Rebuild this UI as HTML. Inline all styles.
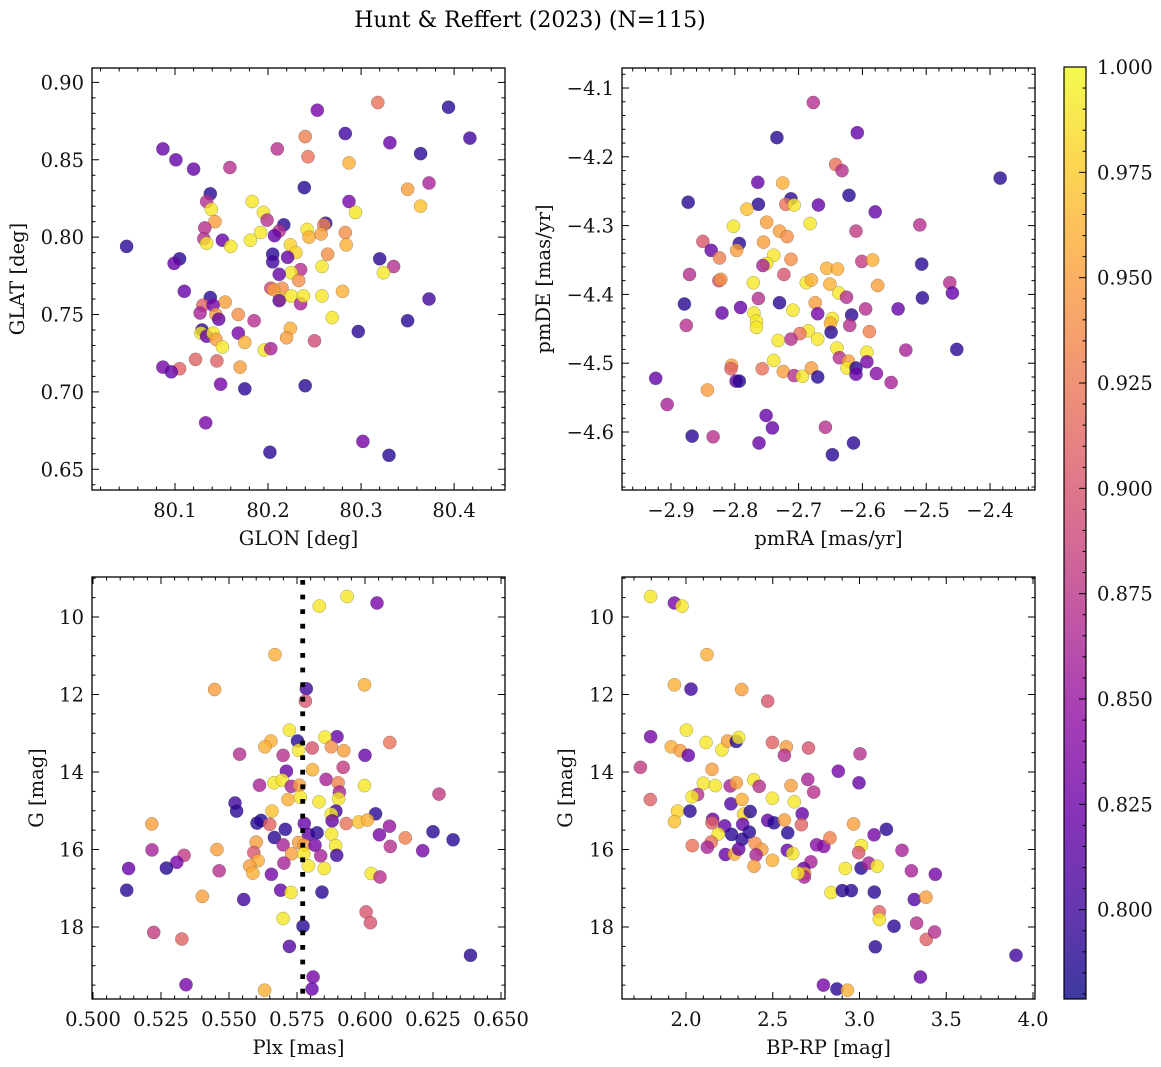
<!DOCTYPE html>
<html><head><meta charset="utf-8">
<style>
html,body{margin:0;padding:0;background:#fff;}
svg{display:block;font-family:"DejaVu Serif","Liberation Serif",serif;}
</style></head>
<body>
<svg id="fig" width="1161" height="1067" viewBox="0 0 1161 1067" xmlns="http://www.w3.org/2000/svg">
<defs>
<linearGradient id="plasma" x1="0" y1="1" x2="0" y2="0">
<stop offset="0" stop-color="#0d0887"/><stop offset="0.1" stop-color="#41049d"/><stop offset="0.2" stop-color="#6a00a8"/><stop offset="0.3" stop-color="#8f0da4"/><stop offset="0.4" stop-color="#b12a90"/><stop offset="0.5" stop-color="#cc4778"/><stop offset="0.6" stop-color="#e16462"/><stop offset="0.7" stop-color="#f2844b"/><stop offset="0.8" stop-color="#fca636"/><stop offset="0.9" stop-color="#fcce25"/><stop offset="1" stop-color="#f0f921"/>
</linearGradient>
</defs>
<text x="530" y="27" font-size="22" text-anchor="middle">Hunt &amp; Reffert (2023) (N=115)</text>
</svg>
<script>
// ---------- Data ----------
const glon = [80.048,80.087,80.101,80.120,80.159,80.138,80.134,80.139,80.143,80.132,80.131,80.134,80.151,80.160,80.105,80.099,80.110,80.183,80.195,80.199,80.217,80.212,80.207,80.192,80.181,80.210,80.239,80.240,80.243,80.253,80.283,80.318,80.331,80.364,80.394,80.417,80.287,80.373,80.350,80.364,80.287,80.294,80.262,80.260,80.242,80.244,80.257,80.283,80.284,80.224,80.230,80.205,80.205,80.221,80.264,80.258,80.235,80.225,80.212,80.233,80.203,80.215,80.206,80.213,80.212,80.225,80.235,80.238,80.258,80.280,80.269,80.320,80.335,80.324,80.373,80.350,80.297,80.250,80.224,80.220,80.196,80.203,80.185,80.168,80.154,80.138,80.130,80.141,80.127,80.144,80.147,80.129,80.128,80.134,80.141,80.144,80.151,80.168,80.175,80.170,80.145,80.122,80.105,80.087,80.096,80.149,80.175,80.240,80.133,80.202,80.302,80.330];
const glat = [0.794,0.857,0.850,0.844,0.845,0.828,0.823,0.818,0.810,0.806,0.799,0.796,0.798,0.794,0.786,0.783,0.765,0.823,0.816,0.811,0.808,0.804,0.801,0.803,0.798,0.857,0.832,0.865,0.852,0.882,0.867,0.887,0.861,0.854,0.884,0.864,0.848,0.835,0.831,0.820,0.823,0.816,0.809,0.808,0.805,0.800,0.802,0.803,0.795,0.795,0.790,0.789,0.784,0.787,0.789,0.781,0.779,0.777,0.776,0.772,0.767,0.767,0.766,0.760,0.759,0.762,0.757,0.762,0.762,0.765,0.748,0.786,0.781,0.777,0.760,0.746,0.739,0.733,0.741,0.735,0.727,0.728,0.746,0.750,0.758,0.761,0.756,0.756,0.751,0.750,0.747,0.740,0.738,0.736,0.738,0.734,0.729,0.738,0.732,0.716,0.720,0.721,0.715,0.716,0.713,0.705,0.702,0.704,0.680,0.661,0.668,0.659];
const prob1 = [.79,.82,.82,.82,.87,.79,.87,.99,.95,.87,.87,.99,.82,.99,.79,.82,.82,.99,.99,.87,.79,.87,.82,.99,.99,.87,.79,.93,.92,.83,.80,.92,.82,.79,.79,.80,.96,.86,.95,.97,.83,.99,.79,.93,.99,.96,.95,.94,.96,.98,.98,.79,.80,.82,.94,.99,.87,.99,.82,.94,.89,.94,.95,.99,.82,.99,.86,.99,.99,.96,.99,.79,.87,.99,.80,.79,.79,.89,.96,.95,.99,.86,.87,.94,.95,.79,.91,.83,.86,.95,.82,.79,.99,.82,.99,.95,.99,.83,.96,.95,.91,.91,.91,.83,.82,.83,.79,.79,.83,.79,.83,.79];

const pmra = [-2.677,-2.734,-2.608,-2.642,-2.632,-2.384,-2.764,-2.725,-2.621,-2.873,-2.763,-2.712,-2.720,-2.707,-2.669,-2.580,-2.781,-2.802,-2.750,-2.730,-2.718,-2.682,-2.610,-2.510,-2.850,-2.837,-2.793,-2.797,-2.755,-2.824,-2.739,-2.750,-2.756,-2.712,-2.601,-2.584,-2.507,-2.871,-2.825,-2.822,-2.723,-2.656,-2.639,-2.771,-2.688,-2.680,-2.651,-2.637,-2.625,-2.576,-2.463,-2.459,-2.506,-2.879,-2.763,-2.730,-2.791,-2.820,-2.709,-2.674,-2.670,-2.770,-2.766,-2.766,-2.617,-2.595,-2.544,-2.876,-2.620,-2.647,-2.650,-2.649,-2.685,-2.698,-2.670,-2.712,-2.732,-2.589,-2.640,-2.636,-2.593,-2.532,-2.452,-2.739,-2.805,-2.806,-2.757,-2.724,-2.707,-2.694,-2.680,-2.670,-2.622,-2.624,-2.610,-2.610,-2.593,-2.578,-2.555,-2.798,-2.793,-2.924,-2.843,-2.906,-2.751,-2.741,-2.658,-2.867,-2.834,-2.762,-2.647,-2.614];
const pmde = [-4.121,-4.172,-4.165,-4.211,-4.220,-4.231,-4.237,-4.238,-4.256,-4.266,-4.269,-4.261,-4.269,-4.270,-4.270,-4.280,-4.276,-4.301,-4.295,-4.308,-4.316,-4.297,-4.308,-4.299,-4.323,-4.336,-4.326,-4.336,-4.324,-4.347,-4.343,-4.355,-4.358,-4.349,-4.352,-4.350,-4.356,-4.371,-4.380,-4.378,-4.371,-4.362,-4.363,-4.383,-4.383,-4.379,-4.385,-4.398,-4.404,-4.387,-4.383,-4.398,-4.405,-4.414,-4.406,-4.412,-4.419,-4.427,-4.423,-4.412,-4.428,-4.427,-4.439,-4.448,-4.430,-4.421,-4.421,-4.445,-4.445,-4.435,-4.442,-4.455,-4.453,-4.457,-4.465,-4.465,-4.467,-4.454,-4.478,-4.492,-4.484,-4.481,-4.480,-4.496,-4.503,-4.508,-4.508,-4.512,-4.518,-4.519,-4.507,-4.520,-4.497,-4.507,-4.507,-4.516,-4.498,-4.515,-4.528,-4.526,-4.526,-4.522,-4.539,-4.560,-4.576,-4.594,-4.593,-4.606,-4.607,-4.616,-4.633,-4.616];
const prob2 = [.87,.79,.82,.92,.87,.79,.82,.96,.79,.79,.79,.79,.92,.99,.82,.82,.97,.99,.95,.95,.94,.99,.88,.87,.90,.82,.79,.95,.95,.93,.99,.99,.86,.94,.88,.96,.79,.87,.90,.94,.90,.96,.96,.99,.99,.96,.96,.99,.87,.95,.87,.82,.79,.79,.87,.79,.82,.82,.99,.95,.83,.99,.99,.99,.79,.87,.82,.87,.87,.99,.96,.79,.99,.92,.99,.87,.99,.93,.99,.87,.99,.86,.79,.99,.95,.91,.92,.95,.87,.99,.95,.79,.95,.99,.79,.82,.83,.84,.86,.82,.79,.82,.95,.86,.82,.82,.87,.79,.87,.82,.79,.79];

const plx = [0.5934,0.5832,0.6044,0.5669,0.5447,0.5998,0.5784,0.5781,0.5722,0.5897,0.5853,0.5654,0.5632,0.5752,0.5756,0.5806,0.5876,0.5922,0.6091,0.5539,0.5699,0.6000,0.5807,0.5920,0.5711,0.5665,0.5696,0.5612,0.5729,0.5759,0.5857,0.5901,0.5906,0.5998,0.6272,0.5717,0.5762,0.5831,0.5903,0.5522,0.5528,0.5658,0.5893,0.5876,0.6039,0.5618,0.5603,0.5650,0.5707,0.5777,0.5879,0.5931,0.5977,0.6009,0.6090,0.5216,0.5792,0.5824,0.5877,0.6053,0.6148,0.6250,0.6324,0.5667,0.5600,0.5699,0.5756,0.5776,0.5816,0.5892,0.6093,0.6212,0.5217,0.5456,0.5591,0.5730,0.5775,0.5837,0.5896,0.5335,0.5308,0.5270,0.5131,0.5464,0.5607,0.5576,0.5588,0.5702,0.5792,0.5850,0.5656,0.6023,0.6055,0.5124,0.5402,0.5554,0.5690,0.5728,0.5842,0.5699,0.5772,0.6004,0.6020,0.5223,0.5327,0.5722,0.6388,0.5809,0.5805,0.5342,0.5631];
const gmag3 = [9.47,9.72,9.64,10.97,11.87,11.75,11.85,12.17,12.92,13.09,13.10,13.20,13.35,13.20,13.44,13.38,13.35,13.45,13.24,13.54,13.57,13.57,13.94,13.88,13.98,14.28,14.21,14.34,14.37,14.34,14.19,14.28,14.52,14.35,14.57,14.71,14.65,14.77,14.69,14.80,15.01,15.01,15.01,15.09,15.08,15.25,15.32,15.35,15.48,15.33,15.26,15.33,15.29,15.24,15.40,15.34,15.61,15.57,15.60,15.62,15.70,15.54,15.75,15.69,15.81,15.88,15.82,15.89,15.89,15.90,15.92,16.03,16.01,16.00,16.08,16.11,16.11,16.16,16.15,16.15,16.33,16.48,16.49,16.55,16.29,16.42,16.61,16.35,16.42,16.49,16.64,16.62,16.71,17.05,17.21,17.29,17.05,17.11,17.10,17.78,17.98,17.61,17.89,18.14,18.31,18.50,18.73,19.29,19.60,19.49,19.63];
const prob3 = [.99,.99,.83,.96,.95,.96,.80,.90,.99,.82,.99,.96,.96,.79,.99,.90,.94,.95,.92,.87,.87,.82,.96,.88,.82,.99,.99,.86,.86,.95,.86,.93,.86,.99,.88,.96,.99,.99,.99,.80,.79,.97,.80,.99,.79,.79,.79,.91,.79,.82,.82,.92,.97,.96,.85,.95,.82,.79,.99,.83,.93,.79,.79,.79,.95,.86,.95,.95,.83,.99,.87,.83,.86,.95,.90,.95,.99,.86,.80,.88,.83,.79,.82,.87,.96,.95,.96,.86,.99,.99,.83,.99,.87,.79,.95,.80,.82,.99,.79,.99,.79,.90,.90,.88,.91,.81,.79,.83,.82,.83,.96];

const bprp = [1.796,1.933,1.977,2.121,1.933,2.029,2.321,2.471,1.796,2.002,1.915,1.967,2.013,2.115,2.207,2.240,2.290,2.304,2.498,2.578,2.567,2.706,3.003,1.737,2.150,2.878,2.997,2.702,2.736,1.794,2.100,2.169,2.255,2.290,2.390,2.422,2.605,2.067,2.035,2.259,2.323,2.498,2.624,1.952,1.933,2.023,2.154,2.150,2.223,2.332,2.370,2.327,2.471,2.507,2.567,2.670,2.665,2.586,2.263,2.365,2.323,2.186,2.146,2.036,2.123,2.227,2.279,2.304,2.398,2.437,2.404,2.392,2.498,2.584,2.615,2.753,2.794,2.830,2.966,3.011,2.995,3.084,3.155,2.720,2.678,2.684,2.682,2.646,2.918,3.009,3.053,3.101,3.245,3.299,3.437,2.836,2.901,2.953,3.085,3.316,3.383,3.114,3.114,3.199,3.329,3.385,3.433,3.091,3.902,3.351,2.792,2.870,2.930];
const gmag4 = [9.47,9.64,9.72,10.97,11.75,11.86,11.87,12.17,13.09,12.92,13.35,13.45,13.57,13.24,13.43,13.20,13.21,13.11,13.24,13.35,13.57,13.38,13.53,13.88,13.93,13.98,14.28,14.19,14.52,14.71,14.29,14.35,14.36,14.28,14.20,14.37,14.35,14.58,14.64,14.82,14.71,14.68,14.77,15.01,15.28,15.01,15.22,15.31,15.39,15.09,15.02,15.35,15.25,15.31,15.24,15.08,15.36,15.57,15.61,15.55,15.74,15.60,15.81,15.90,15.94,16.13,16.12,15.99,15.84,16.00,16.14,16.43,16.28,16.02,16.10,15.88,15.92,15.70,15.34,15.90,16.08,15.62,15.48,16.32,16.49,16.62,16.71,16.61,16.49,16.48,16.35,16.43,16.02,16.55,16.64,17.11,17.06,17.06,17.10,17.29,17.23,17.61,17.80,17.98,17.90,18.32,18.13,18.51,18.73,19.29,19.50,19.60,19.63];
const prob4 = [.99,.83,.99,.96,.96,.80,.95,.90,.83,.99,.96,.95,.82,.99,.99,.95,.79,.99,.91,.95,.87,.90,.87,.88,.95,.83,.82,.86,.87,.91,.99,.99,.86,.95,.99,.87,.95,.87,.99,.81,.96,.99,.99,.98,.97,.79,.82,.91,.82,.98,.79,.82,.82,.79,.95,.82,.91,.79,.79,.79,.79,.99,.92,.92,.86,.82,.96,.82,.94,.95,.86,.95,.96,.82,.99,.84,.84,.93,.95,.99,.90,.83,.79,.86,.82,.95,.86,.99,.99,.79,.86,.99,.86,.86,.83,.99,.79,.79,.79,.81,.95,.91,.99,.79,.87,.91,.87,.79,.80,.82,.83,.79,.96];

const plxMedian = 0.5771;
const cbarTicks = [0.800,0.825,0.850,0.875,0.900,0.925,0.950,0.975,1.000];
const cmin = 0.7788, cmax = 1.0;

// ---------- Helpers ----------
const NS = "http://www.w3.org/2000/svg";
const svg = document.getElementById('fig');
const FS = 19.5;
function mk(tag, attrs, parent){
  const e = document.createElementNS(NS, tag);
  for (const k in attrs) e.setAttribute(k, attrs[k]);
  (parent||svg).appendChild(e);
  return e;
}
const stops = [[13,8,135],[65,4,157],[106,0,168],[143,13,164],[177,42,144],[204,71,120],[225,100,98],[242,132,75],[252,166,54],[252,206,37],[240,249,33]];
function plasma(t){
  t = Math.max(0, Math.min(1, t));
  const f = t*10, i = Math.min(9, Math.floor(f)), r = f - i;
  const a = stops[i], b = stops[i+1];
  return `rgb(${Math.round(a[0]+(b[0]-a[0])*r)},${Math.round(a[1]+(b[1]-a[1])*r)},${Math.round(a[2]+(b[2]-a[2])*r)})`;
}
function fmtNum(v, d){ const s = v.toFixed(d); return s.replace('-', '\u2212'); }

function panel(cfg){
  const {name,l,t,w,h,xmin,xmax,ymin,ymax,invY,xs,ys,cs,xMaj,xMin,yMaj,yMin,xDec,yDec,xlabel,ylabel,ylabX} = cfg;
  const g = mk('g', {});
  
  
  const X = v => l + (v - xmin) / (xmax - xmin) * w;
  const Y = v => invY ? t + (v - ymin) / (ymax - ymin) * h : t + h - (v - ymin) / (ymax - ymin) * h;
  const pts = mk('g', {}, g);
  
  
  for (let i = 0; i < xs.length; i++){
    const c = mk('circle', {cx: X(xs[i]).toFixed(1), cy: Y(ys[i]).toFixed(1), r: 6.6,
      fill: plasma((cs[i]-cmin)/(cmax-cmin)), 'fill-opacity': 0.8, stroke: 'rgba(60,60,60,0.45)', 'stroke-width': 0.5}, pts);
    
    
  }
  if (cfg.vline !== undefined){
    const vl = mk('line', {x1: X(cfg.vline), x2: X(cfg.vline), y1: t+3, y2: t+h, stroke:'#000', 'stroke-width':4.8, 'stroke-dasharray':'4.8,9.8'}, g);
    
    
  }
  const tk = mk('g', {stroke:'#000','stroke-width':1}, g);
  
  
  const eps = 1e-9;
  const lo = Math.min(xmin,xmax), hi = Math.max(xmin,xmax);
  for (let v = Math.ceil(lo/xMin - eps)*xMin; v <= hi + eps; v += xMin){
    const vv = Math.round(v/xMin)*xMin;
    const isMaj = Math.abs(vv/xMaj - Math.round(vv/xMaj)) < 1e-6;
    const len = isMaj ? 7 : 3.5, x = X(vv);
    mk('line', {x1:x, x2:x, y1:t+h, y2:t+h-len}, tk);
    mk('line', {x1:x, x2:x, y1:t, y2:t+len}, tk);
    if (isMaj){
      const lb = mk('text', {x:x, y:t+h+27, 'font-size':FS, 'text-anchor':'middle', stroke:'none', fill:'#111'}, g);
      lb.textContent = fmtNum(vv, xDec);
      
      
    }
  }
  const ylo = Math.min(ymin,ymax), yhi = Math.max(ymin,ymax);
  for (let v = Math.ceil(ylo/yMin - eps)*yMin; v <= yhi + eps; v += yMin){
    const vv = Math.round(v/yMin)*yMin;
    const isMaj = Math.abs(vv/yMaj - Math.round(vv/yMaj)) < 1e-6;
    const len = isMaj ? 7 : 3.5, y = Y(vv);
    mk('line', {x1:l, x2:l+len, y1:y, y2:y}, tk);
    mk('line', {x1:l+w, x2:l+w-len, y1:y, y2:y}, tk);
    if (isMaj){
      const lb = mk('text', {x:l-8, y:y+7, 'font-size':FS, 'text-anchor':'end', stroke:'none', fill:'#111'}, g);
      lb.textContent = fmtNum(vv, yDec);
      
      
    }
  }
  const fr = mk('rect', {x:l, y:t, width:w, height:h, fill:'none', stroke:'#000', 'stroke-width':1.3}, g);
  
  
  const xl = mk('text', {x:l+w/2, y:t+h+55, 'font-size':FS, 'text-anchor':'middle', fill:'#111'}, g);
  xl.textContent = xlabel;
  
  
  const yl = mk('text', {x:0, y:0, 'font-size':FS, 'text-anchor':'middle', fill:'#111', transform:`translate(${ylabX},${t+h/2}) rotate(-90)`}, g);
  yl.textContent = ylabel;
  
  
}

panel({name:'glon-glat-panel', l:92,t:68,w:413,h:422, xmin:80.0108,xmax:80.4547, ymin:0.6366,ymax:0.9093, invY:false,
  xs:glon, ys:glat, cs:prob1, xMaj:0.1,xMin:0.02, yMaj:0.05,yMin:0.01, xDec:1,yDec:2, xlabel:'GLON [deg]', ylabel:'GLAT [deg]', ylabX:24});
panel({name:'proper-motion-panel', l:622,t:68,w:413,h:422, xmin:-2.9768,xmax:-2.3295, ymin:-4.6843,ymax:-4.0709, invY:false,
  xs:pmra, ys:pmde, cs:prob2, xMaj:0.1,xMin:0.02, yMaj:0.1,yMin:0.02, xDec:1,yDec:1, xlabel:'pmRA [mas/yr]', ylabel:'pmDE [mas/yr]', ylabX:550});
panel({name:'parallax-magnitude-panel', l:92,t:577,w:413,h:422, xmin:0.49963,xmax:0.65147, ymin:8.968,ymax:19.858, invY:true,
  xs:plx, ys:gmag3, cs:prob3, xMaj:0.025,xMin:0.005, yMaj:2,yMin:0.5, xDec:3,yDec:0, xlabel:'Plx [mas]', ylabel:'G [mag]', ylabX:43, vline:plxMedian});
panel({name:'color-magnitude-panel', l:622,t:577,w:413,h:422, xmin:1.6311,xmax:4.0115, ymin:8.968,ymax:19.858, invY:true,
  xs:bprp, ys:gmag4, cs:prob4, xMaj:0.5,xMin:0.1, yMaj:2,yMin:0.5, xDec:1,yDec:0, xlabel:'BP-RP [mag]', ylabel:'G [mag]', ylabX:572});

// ---------- Colorbar ----------
(function(){
  const cl = 1064, ct = 67, cw = 22, ch = 932;
  const g = mk('g', {});
  
  
  const r = mk('rect', {x:cl, y:ct, width:cw, height:ch, fill:'url(#plasma)', 'fill-opacity':0.8}, g);
  
  
  const Yc = v => ct + ch - (v - cmin)/(cmax - cmin)*ch;
  for (let k = Math.ceil(cmin/0.005); k*0.005 <= cmax + 1e-9; k++){
    const v = k*0.005, y = Yc(v);
    const isMaj = (k % 5) === 0;
    mk('line', {x1:cl+cw, x2:cl+cw-(isMaj?7:3.5), y1:y, y2:y, stroke:'#000', 'stroke-width':1}, g);
  }
  cbarTicks.forEach(v => {
    const lb = mk('text', {x:cl+cw+11, y:Yc(v)+7, 'font-size':FS, fill:'#111'}, g);
    lb.textContent = v.toFixed(3);
    
    
  });
  const fr = mk('rect', {x:cl, y:ct, width:cw, height:ch, fill:'none', stroke:'#000', 'stroke-width':1.2}, g);
  
  
})();
</script>
</body></html>
